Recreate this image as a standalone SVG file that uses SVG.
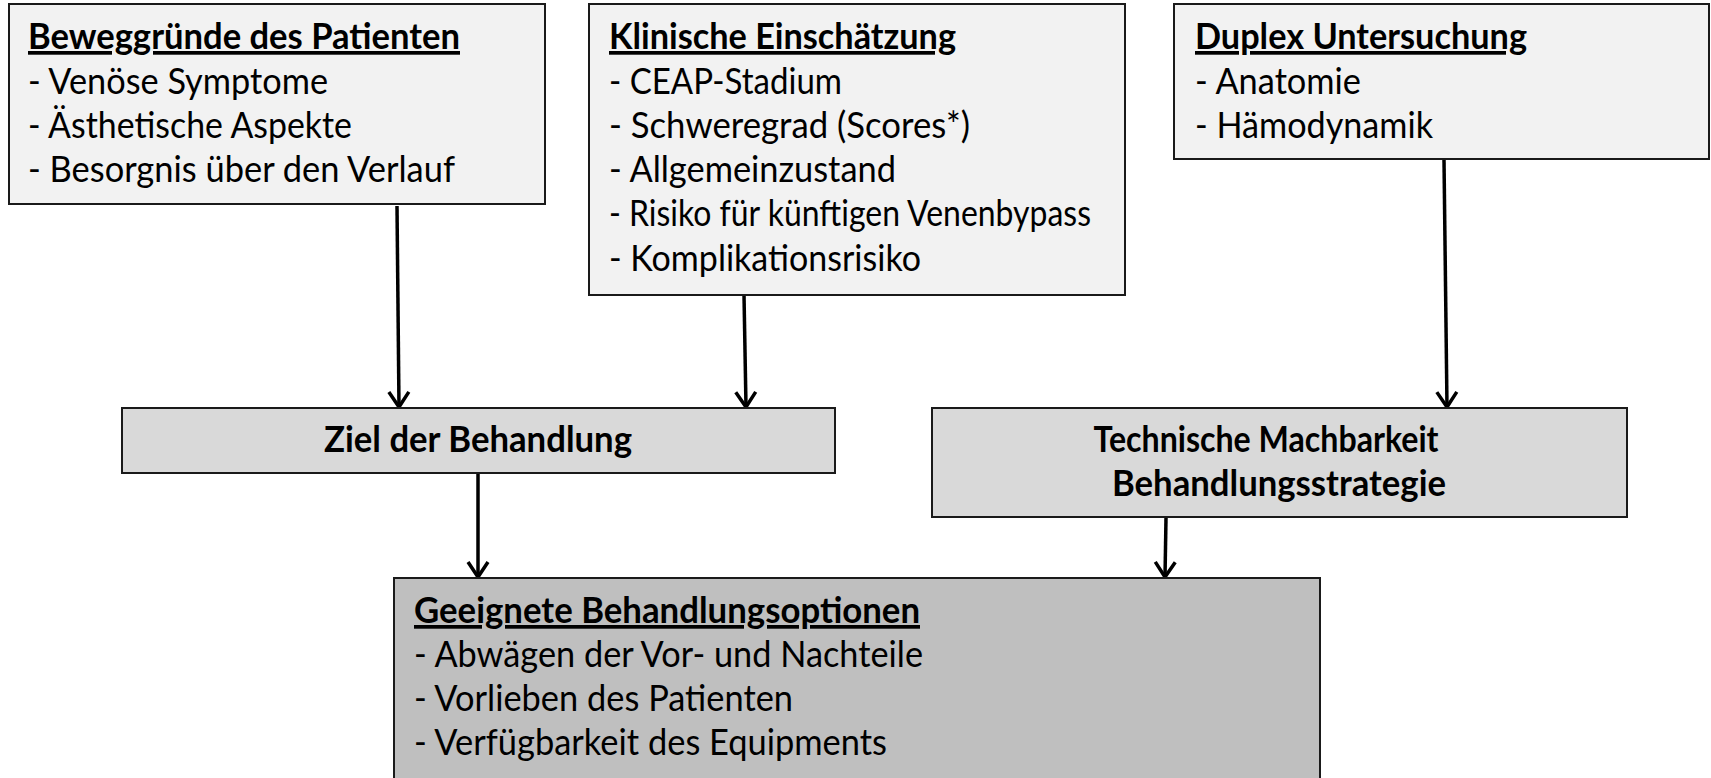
<svg xmlns="http://www.w3.org/2000/svg" width="1711" height="778" viewBox="0 0 1711 778">
<defs>
<style>
.box{stroke:#1a1a1a;stroke-width:2}
.l1{fill:#f2f2f2}
.l2{fill:#d9d9d9}
.l3{fill:#bfbfbf}
text{font-family:Lato,"Open Sans","Liberation Sans",sans-serif;font-size:37px;fill:#000}
.t{font-weight:bold;text-decoration:underline}
.c{font-weight:bold;text-anchor:middle}
.conn{stroke:#000;stroke-width:3.5;fill:none;marker-end:url(#arr)}
</style>
<marker id="arr" markerUnits="userSpaceOnUse" markerWidth="26" markerHeight="26" viewBox="0 0 26 26" refX="22" refY="13" orient="auto">
<path d="M7,3 L22,13 L7,23" fill="none" stroke="#000" stroke-width="3.5"/>
</marker>
</defs>
<rect width="1711" height="778" fill="#fff"/>
<g id="connectors">
<path class="conn" d="M397,206 L399,407"/>
<path class="conn" d="M744,295 L746,407"/>
<path class="conn" d="M1444,160 L1447,407"/>
<path class="conn" d="M478,473 L478,577"/>
<path class="conn" d="M1166,518 L1165,577"/>
</g>
<g id="beweggruende">
<rect class="box l1" x="9" y="4" width="536" height="200"/>
<text class="t" x="28" y="49" textLength="432" lengthAdjust="spacingAndGlyphs">Beweggründe des Patienten</text>
<text x="28" y="94" textLength="300" lengthAdjust="spacingAndGlyphs">- Venöse Symptome</text>
<text x="28" y="138" textLength="324" lengthAdjust="spacingAndGlyphs">- Ästhetische Aspekte</text>
<text x="28" y="182" textLength="427" lengthAdjust="spacingAndGlyphs">- Besorgnis über den Verlauf</text>
</g>
<g id="klinisch">
<rect class="box l1" x="589" y="4" width="536" height="291"/>
<text class="t" x="609" y="49" textLength="347" lengthAdjust="spacingAndGlyphs">Klinische Einschätzung</text>
<text x="609" y="94" textLength="233" lengthAdjust="spacingAndGlyphs">- CEAP-Stadium</text>
<text x="609" y="138" textLength="361" lengthAdjust="spacingAndGlyphs">- Schweregrad (Scores*)</text>
<text x="609" y="182" textLength="287" lengthAdjust="spacingAndGlyphs">- Allgemeinzustand</text>
<text x="609" y="226" textLength="482" lengthAdjust="spacingAndGlyphs">- Risiko für künftigen Venenbypass</text>
<text x="609" y="271" textLength="312" lengthAdjust="spacingAndGlyphs">- Komplikationsrisiko</text>
</g>
<g id="duplex">
<rect class="box l1" x="1174" y="4" width="535" height="155"/>
<text class="t" x="1195" y="49" textLength="332" lengthAdjust="spacingAndGlyphs">Duplex Untersuchung</text>
<text x="1195" y="94" textLength="166" lengthAdjust="spacingAndGlyphs">- Anatomie</text>
<text x="1195" y="138" textLength="238" lengthAdjust="spacingAndGlyphs">- Hämodynamik</text>
</g>
<g id="ziel">
<rect class="box l2" x="122" y="408" width="713" height="65"/>
<text class="c" x="478" y="452" textLength="308" lengthAdjust="spacingAndGlyphs">Ziel der Behandlung</text>
</g>
<g id="technisch">
<rect class="box l2" x="932" y="408" width="695" height="109"/>
<text class="c" x="1266" y="452" textLength="345" lengthAdjust="spacingAndGlyphs">Technische Machbarkeit</text>
<text class="c" x="1279" y="496" textLength="334" lengthAdjust="spacingAndGlyphs">Behandlungsstrategie</text>
</g>
<g id="optionen">
<rect class="box l3" x="394" y="578" width="926" height="215"/>
<text class="t" x="414" y="623" textLength="506" lengthAdjust="spacingAndGlyphs">Geeignete Behandlungsoptionen</text>
<text x="414" y="667" textLength="509" lengthAdjust="spacingAndGlyphs">- Abwägen der Vor- und Nachteile</text>
<text x="414" y="711" textLength="379" lengthAdjust="spacingAndGlyphs">- Vorlieben des Patienten</text>
<text x="414" y="755" textLength="473" lengthAdjust="spacingAndGlyphs">- Verfügbarkeit des Equipments</text>
</g>
</svg>
